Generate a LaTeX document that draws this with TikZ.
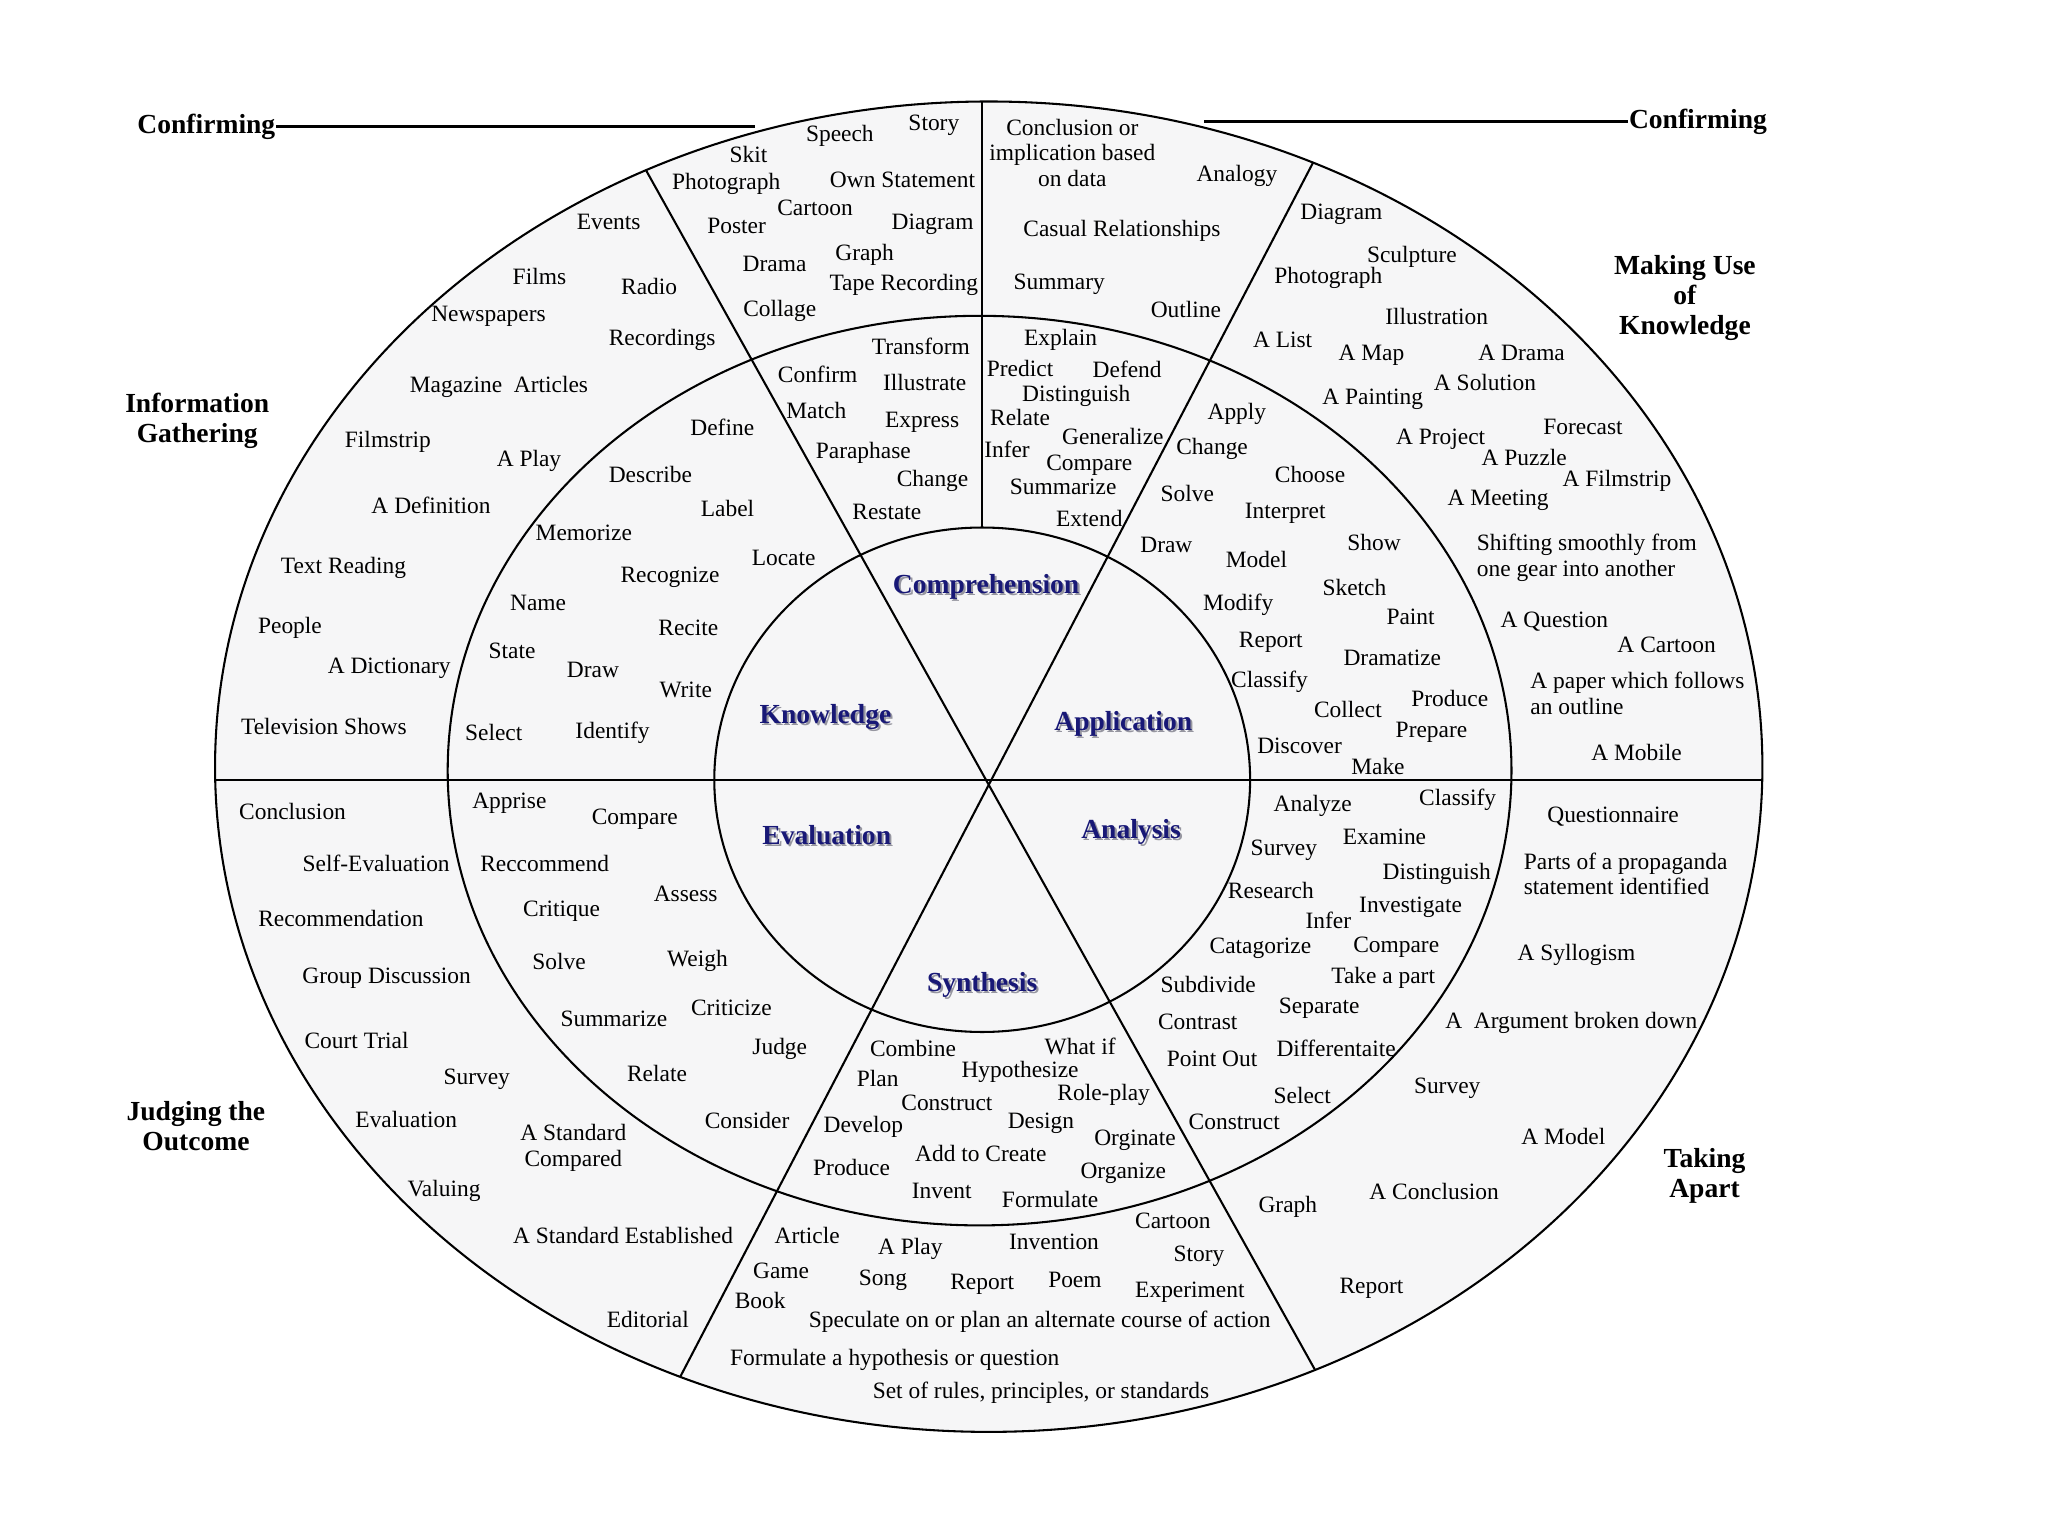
\documentclass[tikz,border=0pt]{standalone}
\usepackage{fontspec}
\setmainfont{Liberation Serif}
\usepackage{tikz}
\usepackage{xcolor}

\definecolor{ringfill}{RGB}{246,246,247}
\definecolor{levelblue}{RGB}{24,24,118}
\definecolor{levelshade}{RGB}{150,150,160}

\newcommand{\shadowed}[1]{\makebox[0pt][l]{\hspace{0.45pt}\raisebox{-0.45pt}{\textcolor{levelshade}{#1}}}#1}

\begin{document}
\begin{tikzpicture}[x=0.01cm, y=-0.01cm,
    word/.style={inner sep=0pt, font=\fontsize{5.1}{5.6}\selectfont},
    area/.style={inner sep=0pt, align=center, font=\fontsize{6}{6.5}\selectfont\bfseries},
    level/.style={inner sep=0pt, text=levelblue, font=\fontsize{6}{7}\selectfont\bfseries},
    ring/.style={line width=0.45pt}]
    \useasboundingbox (0,0) rectangle (1568,1176);

    % Rings
    \fill[ringfill] (757,587) ellipse [x radius=5.92cm, y radius=5.09cm];
    \draw[ring] (757,587) ellipse [x radius=5.92cm, y radius=5.09cm];
    \draw[ring] (750,590) ellipse [x radius=4.07cm, y radius=3.48cm];
    \draw[ring] (752,597) ellipse [x radius=2.05cm, y radius=1.93cm];

    % Dividers
    \coordinate (west) at (100,597);
    \coordinate (east) at (1420,597);
    \coordinate (nw) at (442,36);
    \coordinate (se) at (1056,1137);
    \coordinate (ne) at (1053,33);
    \coordinate (sw) at (475,1142);
    \coordinate (top) at (752,0);
    \coordinate (innertop) at (752,404);
    \begin{scope}
        \clip (757,587) ellipse [x radius=5.92cm, y radius=5.09cm];
        \draw[ring] (west) -- (east);
        \draw[ring] (nw) -- (se);
        \draw[ring] (ne) -- (sw);
        \draw[ring] (top) -- (innertop);
    \end{scope}

    % Outside labels
    \node[area] (confirmL) at (158,97) {Confirming};
    \node[area] (confirmR) at (1300,93) {Confirming};
    \coordinate (confirmLend) at (578,97);
    \coordinate (confirmRend) at (922,93);
    \draw[line width=0.6pt] (confirmL.east) -- (confirmLend);
    \draw[line width=0.6pt] (confirmRend) -- (confirmR.west);
    \node[area] (gather) at (151,322) {Information\\Gathering};
    \node[area] (useknow) at (1290,228) {Making Use\\of\\Knowledge};
    \node[area] (judge) at (150,862) {Judging the\\Outcome};
    \node[area] (apart) at (1305,900) {Taking\\Apart};

    % Levels
    \node[level] (comprehension) at (755,450) {\shadowed{Comprehension}};
    \node[level] (knowledge) at (632,550) {\shadowed{Knowledge}};
    \node[level] (application) at (860,555) {\shadowed{Application}};
    \node[level] (evaluation) at (633,640) {\shadowed{Evaluation}};
    \node[level] (analysis) at (866,638) {\shadowed{Analysis}};
    \node[level] (synthesis) at (752,755) {\shadowed{Synthesis}};

    % Information gathering (outer)
    \node[word] (igEvents) at (466,170) {Events};
    \node[word] (igFilms) at (413,212) {Films};
    \node[word] (igRadio) at (497,219) {Radio};
    \node[word] (igNews) at (374,242) {Newspapers};
    \node[word] (igRecord) at (507,260) {Recordings};
    \node[word] (igMagazine) at (382,296) {Magazine\ \ Articles};
    \node[word] (igFilmstrip) at (297,338) {Filmstrip};
    \node[word] (igPlay) at (405,353) {A Play};
    \node[word] (igDefinition) at (330,387) {A Definition};
    \node[word] (igText) at (263,435) {Text Reading};
    \node[word] (igPeople) at (222,481) {People};
    \node[word] (igDictionary) at (298,512) {A Dictionary};
    \node[word] (igTV) at (248,556) {Television Shows};

    % Knowledge (middle)
    \node[word] (knDefine) at (553,327) {Define};
    \node[word] (knDescribe) at (498,363) {Describe};
    \node[word] (knLabel) at (557,389) {Label};
    \node[word] (knMemorize) at (447,408) {Memorize};
    \node[word] (knLocate) at (600,427) {Locate};
    \node[word] (knRecognize) at (513,442) {Recognize};
    \node[word] (knName) at (412,462) {Name};
    \node[word] (knRecite) at (527,481) {Recite};
    \node[word] (knState) at (392,498) {State};
    \node[word] (knDraw) at (454,513) {Draw};
    \node[word] (knWrite) at (525,528) {Write};
    \node[word] (knSelect) at (378,561) {Select};
    \node[word] (knIdentify) at (469,561) {Identify};

    % Comprehension (outer)
    \node[word] (coSpeech) at (643,104) {Speech};
    \node[word] (coStory) at (715,96) {Story};
    \node[word] (coSkit) at (573,118) {Skit};
    \node[word] (coPhoto) at (556,141) {Photograph};
    \node[word] (coOwn) at (691,138) {Own Statement};
    \node[word] (coCartoon) at (624,159) {Cartoon};
    \node[word] (coPoster) at (564,173) {Poster};
    \node[word] (coDiagram) at (714,172) {Diagram};
    \node[word] (coDrama) at (593,202) {Drama};
    \node[word] (coGraph) at (662,195) {Graph};
    \node[word] (coTape) at (692,218) {Tape Recording};
    \node[word] (coCollage) at (597,238) {Collage};
    \node[word, align=center] (coConclusion) at (821,117) {Conclusion or\\implication based\\on data};
    \node[word] (coAnalogy) at (947,135) {Analogy};
    \node[word] (coCasual) at (859,177) {Casual Relationships};
    \node[word] (coSummary) at (811,218) {Summary};
    \node[word] (coOutline) at (908,237) {Outline};

    % Comprehension (middle)
    \node[word] (cmTransform) at (705,265) {Transform};
    \node[word] (cmConfirm) at (626,287) {Confirm};
    \node[word] (cmIllustrate) at (708,293) {Illustrate};
    \node[word] (cmMatch) at (625,314) {Match};
    \node[word] (cmExpress) at (706,323) {Express};
    \node[word] (cmParaphase) at (661,347) {Paraphase};
    \node[word] (cmChange) at (714,368) {Change};
    \node[word] (cmRestate) at (679,392) {Restate};
    \node[word] (cmExplain) at (812,260) {Explain};
    \node[word] (cmPredict) at (781,282) {Predict};
    \node[word] (cmDefend) at (863,283) {Defend};
    \node[word] (cmDistinguish) at (824,303) {Distinguish};
    \node[word] (cmRelate) at (781,320) {Relate};
    \node[word] (cmGeneralize) at (852,334) {Generalize};
    \node[word] (cmInfer) at (771,344) {Infer};
    \node[word] (cmCompare) at (834,356) {Compare};
    \node[word] (cmSummarize) at (814,373) {Summarize};
    \node[word] (cmExtend) at (834,397) {Extend};

    % Making use of knowledge (outer)
    \node[word] (muDiagram) at (1027,164) {Diagram};
    \node[word] (muSculpture) at (1081,197) {Sculpture};
    \node[word] (muPhoto) at (1017,213) {Photograph};
    \node[word] (muIllustration) at (1100,242) {Illustration};
    \node[word] (muList) at (982,260) {A List};
    \node[word] (muMap) at (1050,272) {A Map};
    \node[word] (muDrama) at (1165,270) {A Drama};
    \node[word] (muSolution) at (1137,293) {A Solution};
    \node[word] (muPainting) at (1051,306) {A Painting};
    \node[word] (muProject) at (1103,336) {A Project};
    \node[word] (muForecast) at (1212,327) {Forecast};
    \node[word] (muPuzzle) at (1167,350) {A Puzzle};
    \node[word] (muFilmstrip) at (1238,368) {A Filmstrip};
    \node[word] (muMeeting) at (1147,383) {A Meeting};
    \node[word, align=left, anchor=west] (muShifting) at (1130,427) {Shifting smoothly from\\one gear into another};
    \node[word] (muQuestion) at (1190,476) {A Question};
    \node[word] (muCartoon) at (1276,494) {A Cartoon};
    \node[word, align=left, anchor=west] (muPaper) at (1171,531) {A paper which follows\\an outline};
    \node[word] (muMobile) at (1253,576) {A Mobile};

    % Application (middle)
    \node[word] (apApply) at (947,317) {Apply};
    \node[word] (apChange) at (928,344) {Change};
    \node[word] (apChoose) at (1003,363) {Choose};
    \node[word] (apSolve) at (909,378) {Solve};
    \node[word] (apInterpret) at (984,393) {Interpret};
    \node[word] (apDraw) at (893,417) {Draw};
    \node[word] (apShow) at (1052,415) {Show};
    \node[word] (apModel) at (962,428) {Model};
    \node[word] (apSketch) at (1037,450) {Sketch};
    \node[word] (apModify) at (948,463) {Modify};
    \node[word] (apPaint) at (1080,472) {Paint};
    \node[word] (apReport) at (973,492) {Report};
    \node[word] (apDramatize) at (1066,504) {Dramatize};
    \node[word] (apClassify) at (972,522) {Classify};
    \node[word] (apProduce) at (1110,535) {Produce};
    \node[word] (apCollect) at (1032,543) {Collect};
    \node[word] (apPrepare) at (1096,561) {Prepare};
    \node[word] (apDiscover) at (995,571) {Discover};
    \node[word] (apMake) at (1055,587) {Make};

    % Analysis (middle)
    \node[word] (anAnalyze) at (1005,617) {Analyze};
    \node[word] (anClassify) at (1116,612) {Classify};
    \node[word] (anExamine) at (1060,641) {Examine};
    \node[word] (anSurvey) at (983,651) {Survey};
    \node[word] (anDistinguish) at (1100,669) {Distinguish};
    \node[word] (anResearch) at (973,682) {Research};
    \node[word] (anInvestigate) at (1080,695) {Investigate};
    \node[word] (anInfer) at (1017,705) {Infer};
    \node[word] (anCatagorize) at (965,726) {Catagorize};
    \node[word] (anCompare) at (1069,725) {Compare};
    \node[word] (anSubdivide) at (925,754) {Subdivide};
    \node[word] (anTake) at (1059,749) {Take a part};
    \node[word] (anSeparate) at (1010,772) {Separate};
    \node[word] (anContrast) at (917,782) {Contrast};
    \node[word] (anDiff) at (1023,803) {Differentaite};
    \node[word] (anPoint) at (928,811) {Point Out};
    \node[word] (anSelect) at (997,839) {Select};
    \node[word] (anConstruct) at (945,859) {Construct};

    % Taking apart (outer)
    \node[word] (taQuestionnaire) at (1235,625) {Questionnaire};
    \node[word, align=left, anchor=west] (taParts) at (1166,669) {Parts of a propaganda\\statement identified};
    \node[word] (taSyllogism) at (1207,731) {A Syllogism};
    \node[word] (taArgument) at (1203,783) {A\ \ Argument broken down};
    \node[word] (taSurvey) at (1108,833) {Survey};
    \node[word] (taModel) at (1197,870) {A Model};
    \node[word] (taConclusion) at (1098,912) {A Conclusion};
    \node[word] (taGraph) at (986,924) {Graph};
    \node[word] (taReport) at (1050,986) {Report};

    % Synthesis (middle)
    \node[word] (syCombine) at (699,803) {Combine};
    \node[word] (syWhatif) at (827,801) {What if};
    \node[word] (syPlan) at (672,826) {Plan};
    \node[word] (syHypothesize) at (781,821) {Hypothesize};
    \node[word] (syConstruct) at (725,844) {Construct};
    \node[word] (syRole) at (845,838) {Role-play};
    \node[word] (syDevelop) at (661,863) {Develop};
    \node[word] (syDesign) at (797,860) {Design};
    \node[word] (syOrginate) at (869,873) {Orginate};
    \node[word] (syAdd) at (751,883) {Add to Create};
    \node[word] (syProduce) at (652,894) {Produce};
    \node[word] (syOrganize) at (860,898) {Organize};
    \node[word] (syInvent) at (721,912) {Invent};
    \node[word] (syFormulate) at (804,918) {Formulate};

    % Synthesis (outer)
    \node[word] (soArticle) at (618,946) {Article};
    \node[word] (soPlay) at (697,956) {A Play};
    \node[word] (soInvention) at (807,951) {Invention};
    \node[word] (soCartoon) at (898,935) {Cartoon};
    \node[word] (soGame) at (598,973) {Game};
    \node[word] (soStory) at (918,962) {Story};
    \node[word] (soSong) at (676,980) {Song};
    \node[word] (soReport) at (752,983) {Report};
    \node[word] (soPoem) at (823,980) {Poem};
    \node[word] (soBook) at (582,996) {Book};
    \node[word] (soExperiment) at (911,989) {Experiment};
    \node[word] (soSpeculate) at (796,1012) {Speculate on or plan an alternate course of action};
    \node[word] (soHypothesis) at (685,1041) {Formulate a hypothesis or question};
    \node[word] (soRules) at (797,1066) {Set of rules, principles, or standards};

    % Evaluation (middle)
    \node[word] (evApprise) at (390,615) {Apprise};
    \node[word] (evCompare) at (486,627) {Compare};
    \node[word] (evReccommend) at (417,661) {Reccommend};
    \node[word] (evAssess) at (525,684) {Assess};
    \node[word] (evCritique) at (430,698) {Critique};
    \node[word] (evSolve) at (428,736) {Solve};
    \node[word] (evWeigh) at (534,736) {Weigh};
    \node[word] (evSummarize) at (470,780) {Summarize};
    \node[word] (evCriticize) at (560,772) {Criticize};
    \node[word] (evJudge) at (597,803) {Judge};
    \node[word] (evRelate) at (503,822) {Relate};
    \node[word] (evConsider) at (572,858) {Consider};

    % Judging the outcome (outer)
    \node[word] (joConclusion) at (224,621) {Conclusion};
    \node[word] (joSelf) at (288,661) {Self-Evaluation};
    \node[word] (joRecommend) at (261,703) {Recommendation};
    \node[word] (joGroup) at (296,749) {Group Discussion};
    \node[word] (joCourt) at (273,797) {Court Trial};
    \node[word] (joSurvey) at (365,826) {Survey};
    \node[word] (joEvaluation) at (311,857) {Evaluation};
    \node[word, align=center] (joCompared) at (439,879) {A Standard\\Compared};
    \node[word] (joValuing) at (340,912) {Valuing};
    \node[word] (joEstablished) at (477,946) {A Standard Established};
    \node[word] (joEditorial) at (496,1010) {Editorial};
\end{tikzpicture}
\end{document}
